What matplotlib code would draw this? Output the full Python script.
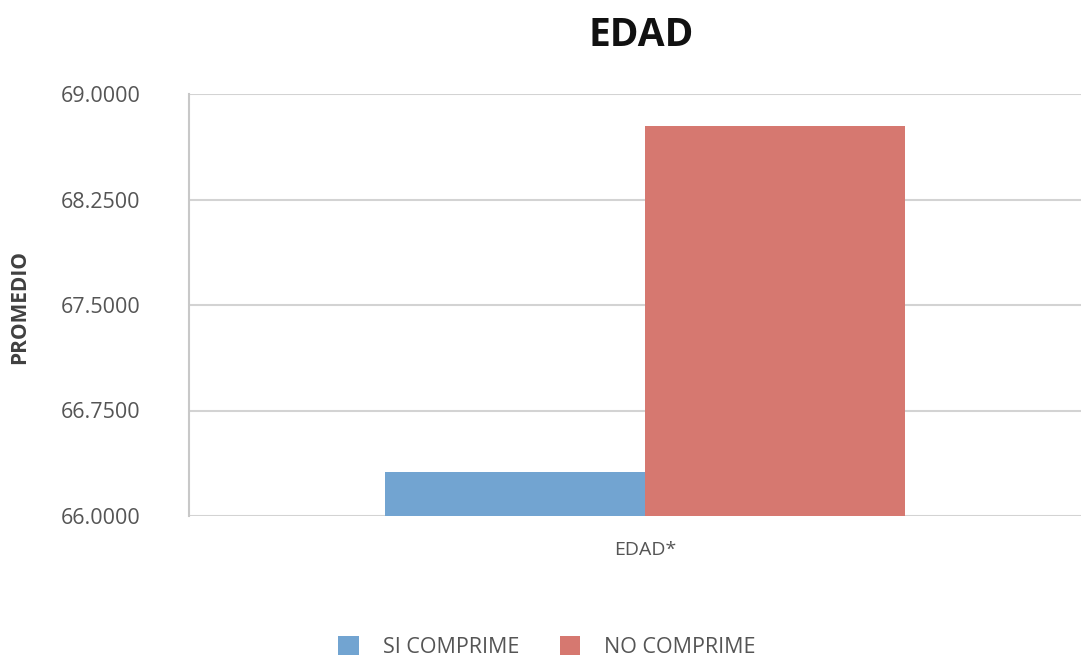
import matplotlib
matplotlib.use("Agg")
import matplotlib.pyplot as plt
import numpy as np

categories = ["EDAD*"]
series_names = ["SI COMPRIME", "NO COMPRIME"]
si_values = [66.31]
no_values = [68.77]
yticks = [66.0, 66.75, 67.5, 68.25, 69.0]
colors = ["#72A4D1", "#D67870"]

plt.rcParams['font.family'] = ['Open Sans', 'DejaVu Sans']

fig = plt.figure(figsize=(10.81, 6.58), dpi=100)
W, H = 1081, 658
left, right, top, bottom = 189, 1101, 94, 516
ax = fig.add_axes([left / W, 1 - bottom / H, (right - left) / W, (bottom - top) / H])

x = np.arange(len(categories))
bw = 0.285
ax.bar(x - bw / 2, si_values, width=bw, color=colors[0], label=series_names[0], zorder=3)
ax.bar(x + bw / 2, no_values, width=bw, color=colors[1], label=series_names[1], zorder=3)

ax.set_xlim(-0.5, 0.5)
ax.set_ylim(66.0, 69.0)
ax.set_yticks(yticks)
ax.set_yticklabels([f"{v:.4f}" for v in yticks], color="#555555", fontsize=15.5)
ax.set_xticks(x)
ax.set_xticklabels(categories, color="#555555", fontsize=14)
ax.tick_params(axis='y', length=0, pad=35)
ax.tick_params(axis='x', length=0, pad=18)
ax.grid(axis='y', color="#D3D3D3", linewidth=1.5, zorder=0)
for s in ['top', 'right', 'bottom']:
    ax.spines[s].set_visible(False)
ax.spines['left'].set_color("#C8C8C8")
ax.spines['left'].set_linewidth(1.5)

fig.text(20 / W, 1 - 307 / H, "PROMEDIO", rotation=90, ha='center', va='center',
         fontsize=15, fontweight='bold', color="#404040")
fig.text(641 / W, 1 - 35 / H, "EDAD", ha='center', va='center',
         fontsize=28, fontweight='bold', color="#111111")

leg = fig.legend(loc='center', bbox_to_anchor=(547 / W, 1 - 647 / H), ncol=2, frameon=False,
                 fontsize=15.5, handlelength=0.95, handleheight=0.95, columnspacing=1.9,
                 handletextpad=1.1)
for t in leg.get_texts():
    t.set_color("#555555")

fig.savefig("out.png", dpi=100)
